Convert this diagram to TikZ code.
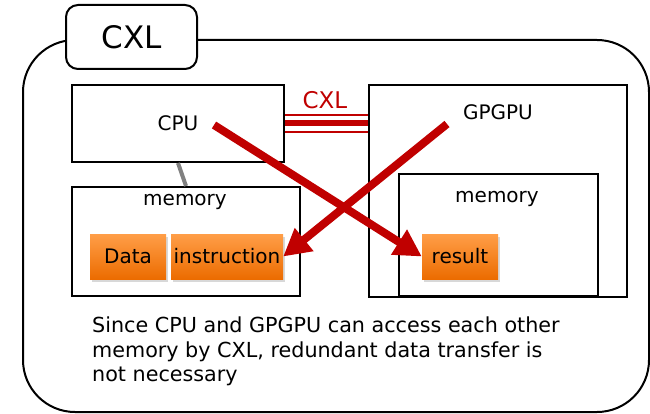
\documentclass[tikz,border=0pt]{standalone}
\usepackage{fontspec}
\setmainfont{DejaVu Sans}
\usetikzlibrary{arrows.meta,shadows}
\definecolor{cxlred}{RGB}{192,0,0}
\definecolor{orangetop}{RGB}{255,158,72}
\definecolor{orangebot}{RGB}{236,108,0}
\begin{document}
\begin{tikzpicture}[x=1pt,y=-1pt,
  box/.style={draw, line width=2pt, inner sep=0pt, fill=white},
  cell/.style={inner sep=0pt, top color=orangetop, bottom color=orangebot,
    drop shadow={opacity=0.3, shadow xshift=2pt, shadow yshift=-3pt},
    minimum height=45pt, font=\fontsize{20}{24}\selectfont},
  lbl/.style={inner sep=0pt, font=\fontsize{20}{24}\selectfont},
  move/.style={cxlred, line width=8pt, -{Triangle[length=27pt,width=28pt]}}]
\useasboundingbox (0,0) rectangle (650,414);
\draw[line width=2pt, rounded corners=52pt] (23,40) rectangle (649,412);
\node[draw, line width=2pt, rounded corners=12pt, fill=white, minimum width=131pt,
  minimum height=64pt, font=\fontsize{31}{36}\selectfont] (tab) at (131.5,37) {CXL};
\node[box, minimum width=212pt, minimum height=77pt] (cpu) at (178,123.5) {};
\node[lbl] (cpulbl) at (178,123) {CPU};
\node[box, minimum width=228pt, minimum height=109pt] (cpumem) at (186,241.5) {};
\node[lbl] (cpumemlbl) at (185,202) {memory};
\node[cell, minimum width=76pt] (data) at (128,256.5) {Data};
\node[cell, minimum width=112pt] (instr) at (227,256.5) {instruction};
\node[box, minimum width=258pt, minimum height=212pt] (gpgpu) at (498,191) {};
\node[lbl] (gpgpulbl) at (498,112) {GPGPU};
\node[box, minimum width=199pt, minimum height=122pt] (gpumem) at (498.5,235) {};
\node[lbl] (gpumemlbl) at (497,199) {memory};
\node[cell, minimum width=76pt] (result) at (460,256.5) {result};
\draw[gray, line width=4pt] (cpu.south) -- (cpumem.north);
\draw[cxlred, line width=2.7pt] ([yshift=8.5pt]cpu.east) -- ([yshift=8.5pt]cpu.east -| gpgpu.west);
\draw[cxlred, line width=6pt] (cpu.east) -- (cpu.east -| gpgpu.west);
\draw[cxlred, line width=2.7pt] ([yshift=-8.5pt]cpu.east) -- ([yshift=-8.5pt]cpu.east -| gpgpu.west);
\node[inner sep=0pt, text=cxlred, font=\fontsize{23}{27}\selectfont] (cxllbl) at (325,100) {CXL};
\coordinate (cpuout) at (214,125);
\coordinate (gpuout) at (447,124);
\draw[move] (cpuout) -- (result.west);
\draw[move] (gpuout) -- (instr.east);
\node[inner sep=0pt, anchor=north west, align=left, font=\fontsize{20.7}{24.5}\selectfont]
  (note) at (92,317) {Since CPU and GPGPU can access each other\\memory by CXL, redundant data transfer is\\not necessary};
\end{tikzpicture}
\end{document}
